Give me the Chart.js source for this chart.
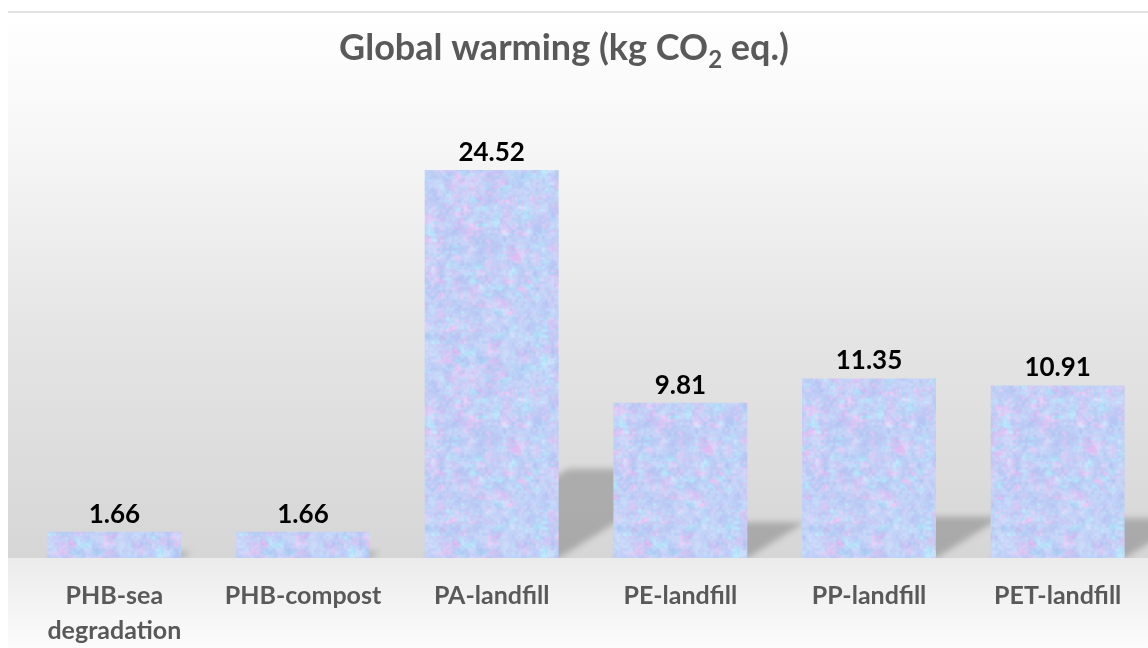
<!DOCTYPE html>
<html>
<head>
<meta charset="utf-8">
<script src="https://cdn.jsdelivr.net/npm/chart.js@4/dist/chart.umd.min.js"></script>
<style>
  html, body { margin: 0; padding: 0; background: #fff; overflow: hidden; }
  #wrap { width: 1152px; height: 648px; overflow: hidden; }
</style>
</head>
<body>
<div id="wrap"><canvas id="gwChart" width="1152" height="648"></canvas></div>
<script>
// Global warming impact per end-of-life scenario
const categories = [['PHB-sea', 'degradation'], 'PHB-compost', 'PA-landfill', 'PE-landfill', 'PP-landfill', 'PET-landfill'];
const gwValues = [1.66, 1.66, 24.52, 9.81, 11.35, 10.91];
const yMin = 0;
const yMax = 28;

const FONT = 'Lato, "Open Sans", sans-serif';

// small seeded PRNG so the bar texture is the same on every load
function mulberry32(a) {
  return function () {
    a |= 0; a = a + 0x6D2B79F5 | 0;
    let t = Math.imul(a ^ a >>> 15, 1 | a);
    t = t + Math.imul(t ^ t >>> 7, 61 | t) ^ t;
    return ((t ^ t >>> 14) >>> 0) / 4294967296;
  };
}

function makeGrid(n, rand) {
  const g = new Float32Array(n * n);
  for (let i = 0; i < g.length; i++) g[i] = rand();
  return g;
}

// smooth, wrapping value noise
function sample(g, n, cell, x, y) {
  const fx = x / cell, fy = y / cell;
  const x0 = Math.floor(fx), y0 = Math.floor(fy);
  let tx = fx - x0, ty = fy - y0;
  tx = tx * tx * (3 - 2 * tx); ty = ty * ty * (3 - 2 * ty);
  const xa = x0 % n, ya = y0 % n, xb = (x0 + 1) % n, yb = (y0 + 1) % n;
  const a = g[ya * n + xa], b = g[ya * n + xb], c = g[yb * n + xa], d = g[yb * n + xb];
  return (a * (1 - tx) + b * tx) * (1 - ty) + (c * (1 - tx) + d * tx) * ty;
}

// pale blue / pink / cyan mottled fill for the bars
function makeTexture(ctx) {
  const T = 192;
  const cv = document.createElement('canvas');
  cv.width = cv.height = T;
  const c = cv.getContext('2d');
  const img = c.createImageData(T, T);
  const rand = mulberry32(11);
  const fields = [];
  for (let k = 0; k < 3; k++) fields.push([makeGrid(24, rand), makeGrid(64, rand), makeGrid(96, rand)]);
  const f = (k, x, y) => {
    const [a, b, d] = fields[k];
    return 0.45 * sample(a, 24, 8, x, y) + 0.35 * sample(b, 64, 3, x, y) + 0.2 * sample(d, 96, 2, x, y);
  };
  for (let y = 0; y < T; y++) {
    for (let x = 0; x < T; x++) {
      const pk = Math.max(0, (f(0, x, y) - 0.46) * 3);
      const cy = Math.max(0, (f(1, x, y) - 0.5) * 3);
      const lt = (f(2, x, y) - 0.5) * 36;
      const r = 192 + pk * 34 - cy * 14 + lt;
      const g = 207 - pk * 12 + cy * 20 + lt;
      const b = 246 - pk * 2 + cy * 4 + lt * 0.3;
      const i = (y * T + x) * 4;
      img.data[i] = Math.min(255, r);
      img.data[i + 1] = Math.min(255, g);
      img.data[i + 2] = Math.min(255, b);
      img.data[i + 3] = 255;
    }
  }
  c.putImageData(img, 0, 0);
  return ctx.createPattern(cv, 'repeat');
}

// grey gradient panel behind the plot
const panelBackground = {
  id: 'panelBackground',
  beforeDraw(chart) {
    const { ctx, width, height, chartArea } = chart;
    ctx.save();
    ctx.fillStyle = '#ffffff';
    ctx.fillRect(0, 0, width, height);
    const top = 12, left = 8, base = chartArea.bottom;
    const g1 = ctx.createLinearGradient(0, top, 0, base);
    g1.addColorStop(0, '#ffffff');
    g1.addColorStop(0.25, '#f6f6f6');
    g1.addColorStop(0.6, '#e4e4e4');
    g1.addColorStop(1, '#d6d6d6');
    ctx.fillStyle = g1;
    ctx.fillRect(left, top, width - left, base - top);
    const g2 = ctx.createLinearGradient(0, base, 0, height);
    g2.addColorStop(0, '#ebebeb');
    g2.addColorStop(1, '#fcfcfc');
    ctx.fillStyle = g2;
    ctx.fillRect(left, base, width - left, height - base);
    ctx.fillStyle = '#e2e2e2';
    ctx.fillRect(left, top - 1, width - left, 2);
    ctx.restore();
  }
};

// slanted cast shadow behind each bar
const barShadow = {
  id: 'barShadow',
  beforeDatasetsDraw(chart) {
    const { ctx, chartArea } = chart;
    const meta = chart.getDatasetMeta(0);
    ctx.save();
    ctx.beginPath();
    ctx.rect(0, 0, chart.width, chartArea.bottom);
    ctx.clip();
    ctx.filter = 'blur(3px)';
    ctx.fillStyle = 'rgba(0,0,0,0.21)';
    meta.data.forEach(bar => {
      const h = bar.base - bar.y;
      const x0 = bar.x - bar.width / 2, x1 = bar.x + bar.width / 2;
      const sh = h * 0.23, dx = h * 0.37;
      ctx.beginPath();
      ctx.moveTo(x0, bar.base);
      ctx.lineTo(x1, bar.base);
      ctx.lineTo(x1 + dx, bar.base - sh);
      ctx.lineTo(x0 + dx, bar.base - sh);
      ctx.closePath();
      ctx.fill();
    });
    ctx.restore();
  }
};

// value above each bar
const valueLabels = {
  id: 'valueLabels',
  afterDatasetsDraw(chart) {
    const { ctx } = chart;
    const meta = chart.getDatasetMeta(0);
    ctx.save();
    ctx.font = 'bold 26px ' + FONT;
    ctx.fillStyle = '#000000';
    ctx.textAlign = 'center';
    ctx.textBaseline = 'alphabetic';
    meta.data.forEach((bar, i) => {
      ctx.fillText(gwValues[i].toFixed(2), bar.x, bar.y - 9);
    });
    ctx.restore();
  }
};

// title with subscript 2
const chartTitle = {
  id: 'chartTitle',
  afterDraw(chart) {
    const { ctx } = chart;
    const big = 'bold 36px ' + FONT, small = 'bold 24px ' + FONT;
    const a = 'Global warming (kg CO', sub = '2', b = ' eq.)';
    ctx.save();
    ctx.fillStyle = '#595959';
    ctx.textBaseline = 'alphabetic';
    ctx.textAlign = 'left';
    ctx.font = big;
    const wa = ctx.measureText(a).width, wb = ctx.measureText(b).width;
    ctx.font = small;
    const ws = ctx.measureText(sub).width;
    let x = 564 - (wa + ws + wb) / 2;
    const y = 60;
    ctx.font = big;
    ctx.fillText(a, x, y);
    x += wa;
    ctx.font = small;
    ctx.fillText(sub, x, y + 8);
    x += ws;
    ctx.font = big;
    ctx.fillText(b, x, y);
    ctx.restore();
  }
};

const ctx = document.getElementById('gwChart').getContext('2d');
const barTexture = makeTexture(ctx);

const gwChart = new Chart(ctx, {
  type: 'bar',
  data: {
    labels: categories,
    datasets: [{
      label: 'Global warming',
      data: gwValues,
      backgroundColor: barTexture,
      borderWidth: 0,
      barPercentage: 0.71,
      categoryPercentage: 1.0,
    }],
  },
  options: {
    responsive: false,
    animation: false,
    devicePixelRatio: 1,
    layout: { padding: { left: 20, right: 0, top: 115, bottom: -20 } },
    plugins: {
      legend: { display: false },
      title: { display: false },
      tooltip: { enabled: false },
    },
    scales: {
      x: {
        grid: { display: false, drawTicks: false },
        border: { display: false },
        ticks: {
          color: '#595959',
          font: { family: FONT, size: 25, weight: 'bold', lineHeight: 1.4 },
          padding: 20,
          maxRotation: 0,
          autoSkip: false,
        },
      },
      y: {
        display: false,
        min: yMin,
        max: yMax,
      },
    },
  },
  plugins: [panelBackground, barShadow, valueLabels, chartTitle],
});
</script>
</body>
</html>
